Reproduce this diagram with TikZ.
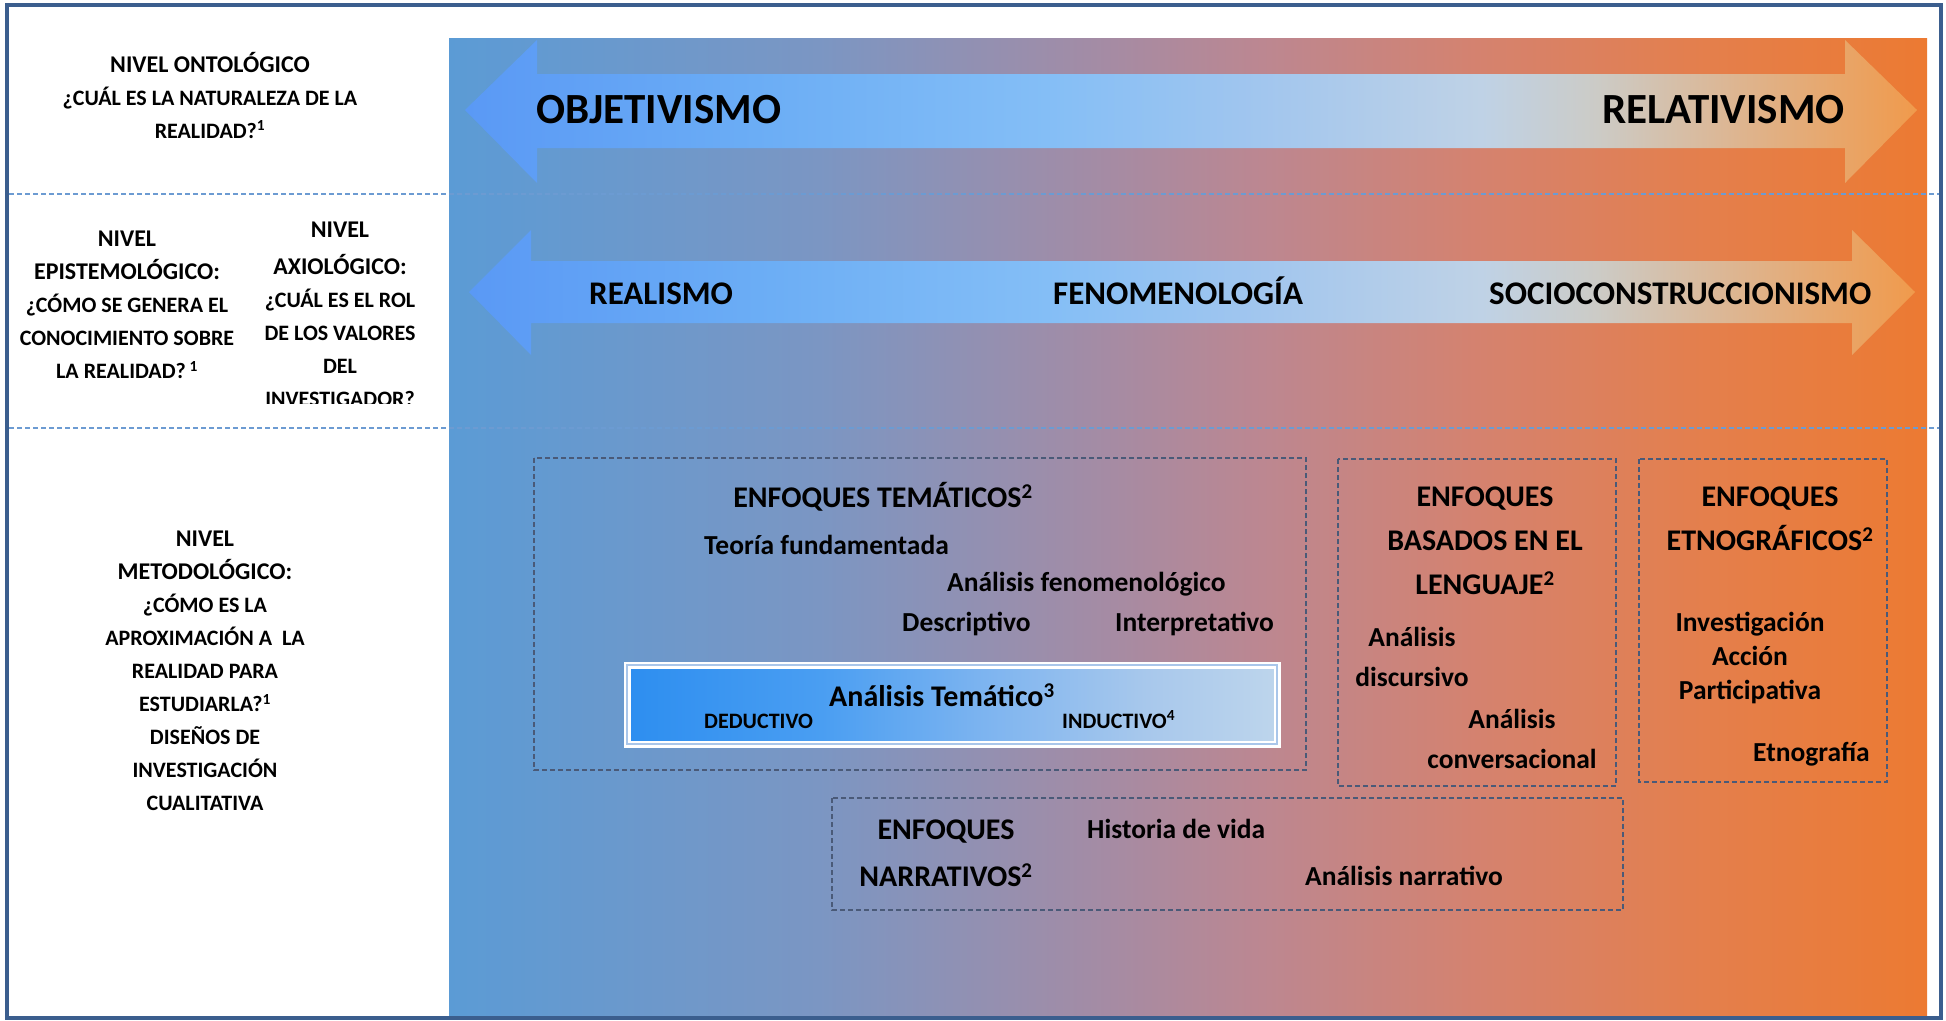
\documentclass[tikz,border=0pt]{standalone}
\usepackage{fontspec}
\setmainfont{Carlito}
\definecolor{bg0}{HTML}{5B9BD5}
\definecolor{bg1}{HTML}{7B96C3}
\definecolor{bg2}{HTML}{A68BA3}
\definecolor{bg3}{HTML}{BC8791}
\definecolor{bg4}{HTML}{D5826E}
\definecolor{bg5}{HTML}{E47F4C}
\definecolor{bg6}{HTML}{EC7A32}
\definecolor{ar0}{HTML}{5A99F5}
\definecolor{ar1}{HTML}{6BADF5}
\definecolor{ar2}{HTML}{84BEF6}
\definecolor{ar3}{HTML}{A2C6EE}
\definecolor{ar4}{HTML}{BFD2E6}
\definecolor{ar5}{HTML}{CCCBC6}
\definecolor{ar6}{HTML}{DEB48E}
\definecolor{ar7}{HTML}{F09A4C}
\definecolor{at0}{HTML}{2D8EF0}
\definecolor{at1}{HTML}{4A9EF2}
\definecolor{at2}{HTML}{7DB4F0}
\definecolor{at3}{HTML}{A8C8EC}
\definecolor{at4}{HTML}{BDD5EC}
\definecolor{framec}{HTML}{3B5E8E}
\definecolor{sepc}{HTML}{6C9BD2}
\definecolor{boxc}{HTML}{4A5A78}
\definecolor{atline}{HTML}{A9C6EA}
\pgfdeclarehorizontalshading{bgshade}{100bp}{color(0bp)=(bg0); color(25bp)=(bg0); color(37.5bp)=(bg1); color(47.5bp)=(bg2); color(52.5bp)=(bg3); color(60bp)=(bg4); color(67.5bp)=(bg5); color(75bp)=(bg6); color(100bp)=(bg6)}
\pgfdeclarehorizontalshading{arrshade}{100bp}{color(0bp)=(ar0); color(25bp)=(ar0); color(35bp)=(ar1); color(45bp)=(ar2); color(52.5bp)=(ar3); color(60bp)=(ar4); color(64bp)=(ar5); color(69bp)=(ar6); color(75bp)=(ar7); color(100bp)=(ar7)}
\pgfdeclarehorizontalshading{atshade}{100bp}{color(0bp)=(at0); color(25bp)=(at0); color(40bp)=(at1); color(52.5bp)=(at2); color(65bp)=(at3); color(75bp)=(at4); color(100bp)=(at4)}
\begin{document}
\begin{tikzpicture}[x=1pt,y=-1pt,
  lbl/.style={inner sep=0pt, font=\bfseries\fontsize{22}{33}\selectfont, align=center},
  body/.style={inner sep=0pt, anchor=west, font=\bfseries\fontsize{27.5}{40}\selectfont, text height=17.6pt, text depth=0pt},
  bodyc/.style={inner sep=0pt, align=center, font=\bfseries\fontsize{27.5}{40}\selectfont},
  head/.style={inner sep=0pt, align=center, font=\bfseries\fontsize{30}{44}\selectfont},
  big/.style={inner sep=0pt, font=\bfseries\fontsize{43}{50}\selectfont, text height=27.5pt, text depth=0pt},
  mid/.style={inner sep=0pt, anchor=west, font=\bfseries\fontsize{33}{40}\selectfont, text height=21.1pt, text depth=0pt},
  small/.style={inner sep=0pt, anchor=west, font=\bfseries\fontsize{22}{26}\selectfont, text height=14.1pt, text depth=0pt},
  grp/.style={draw=boxc, dash pattern=on 5pt off 3pt, line width=1.6pt},
  sep/.style={draw=sepc, dash pattern=on 5pt off 3pt, line width=1.5pt}
]
\useasboundingbox (0,0) rectangle (1946,1020);
\fill[white] (0,0) rectangle (1946,1020);
% gradient panel
\shade[shading=bgshade] (449,38) rectangle (1927,1016);
% separators
\draw[sep] (9,194) -- (1939,194);
\draw[sep] (9,428) -- (1939,428);
% frame
\draw[framec, line width=4pt] (7,5) rectangle (1941,1018);
% arrows
\shade[shading=arrshade] (465,110) -- (537,40) -- (537,74) -- (1845,74) -- (1845,40) -- (1917,110) -- (1845,183) -- (1845,148) -- (537,148) -- (537,183) -- cycle;
\shade[shading=arrshade] (469,292) -- (531,230) -- (531,261) -- (1852,261) -- (1852,230) -- (1915,292) -- (1852,355) -- (1852,323) -- (531,323) -- (531,355) -- cycle;
\node[big, anchor=west] (obj) at (536,110) {OBJETIVISMO};
\node[big, anchor=east] (rel) at (1845,110) {RELATIVISMO};
\node[mid] (rea) at (589,294) {REALISMO};
\node[mid] (fen) at (1053,294) {FENOMENOLOGÍA};
\node[mid] (soc) at (1489,294) {SOCIOCONSTRUCCIONISMO};
% left column
\node[lbl] (ont) at (210,95) {{\fontsize{24}{33}\selectfont NIVEL ONTOLÓGICO}\\¿CUÁL ES LA NATURALEZA DE LA\\REALIDAD?\textsuperscript{1}};
\node[lbl] (epi) at (127,305) {{\fontsize{24}{33}\selectfont NIVEL}\\{\fontsize{24}{33}\selectfont EPISTEMOLÓGICO:}\\¿CÓMO SE GENERA EL\\CONOCIMIENTO SOBRE\\LA REALIDAD?\,\textsuperscript{1}};
\begin{scope}
\clip (230,200) rectangle (449,403);
\node[lbl] (axi) at (340,314) {{\fontsize{24}{33}\selectfont NIVEL}\\[4pt]{\fontsize{24}{33}\selectfont AXIOLÓGICO:}\\¿CUÁL ES EL ROL\\DE LOS VALORES\\DEL\\INVESTIGADOR?};
\end{scope}
\node[lbl] (met) at (205,671) {{\fontsize{24}{33}\selectfont NIVEL}\\{\fontsize{24}{33}\selectfont METODOLÓGICO:}\\¿CÓMO ES LA\\APROXIMACIÓN A~~LA\\REALIDAD PARA\\ESTUDIARLA?\textsuperscript{1}\\DISEÑOS DE\\INVESTIGACIÓN\\CUALITATIVA};
% group boxes
\draw[grp] (534,458) rectangle (1306,770);
\draw[grp] (1338,459) rectangle (1616,786);
\draw[grp] (1639,459) rectangle (1887,782);
\draw[grp] (832,798) rectangle (1623,910);
% analisis tematico box
\shade[shading=atshade] (627,665) rectangle (1277,744);
\draw[white, line width=7pt] (627,665) rectangle (1277,744);
\draw[atline, line width=1.2pt] (627,665) rectangle (1277,744);
% tematicos
\node[head] (temh) at (883,497) {ENFOQUES TEMÁTICOS\textsuperscript{2}};
\node[body] (teo) at (704,546) {Teoría fundamentada};
\node[body] (afen) at (947,583) {Análisis fenomenológico};
\node[body] (des) at (902,623) {Descriptivo};
\node[body] (int) at (1115,623) {Interpretativo};
\node[body, font=\bfseries\fontsize{30}{36}\selectfont, text height=19.2pt] (ate) at (829,697) {Análisis Temático\textsuperscript{3}};
\node[small] (ded) at (704,721) {DEDUCTIVO};
\node[small] (ind) at (1062,721) {INDUCTIVO\textsuperscript{4}};
% lenguaje
\node[head] (lenh) at (1485,541) {ENFOQUES\\BASADOS EN EL\\LENGUAJE\textsuperscript{2}};
\node[bodyc] (adis) at (1412,657) {Análisis\\discursivo};
\node[bodyc] (acon) at (1512,739) {Análisis\\conversacional};
% etnograficos
\node[head] (etnh) at (1770,519) {ENFOQUES\\ETNOGRÁFICOS\textsuperscript{2}};
\node[bodyc, font=\bfseries\fontsize{27.5}{34}\selectfont] (iap) at (1750,658) {Investigación\\Acción\\Participativa};
\node[body] (etn) at (1753,753) {Etnografía};
% narrativos
\node[head, font=\bfseries\fontsize{30}{47}\selectfont] (narh) at (946,853) {ENFOQUES\\NARRATIVOS\textsuperscript{2}};
\node[body] (his) at (1087,830) {Historia de vida};
\node[body] (anar) at (1305,877) {Análisis narrativo};
\end{tikzpicture}
\end{document}
